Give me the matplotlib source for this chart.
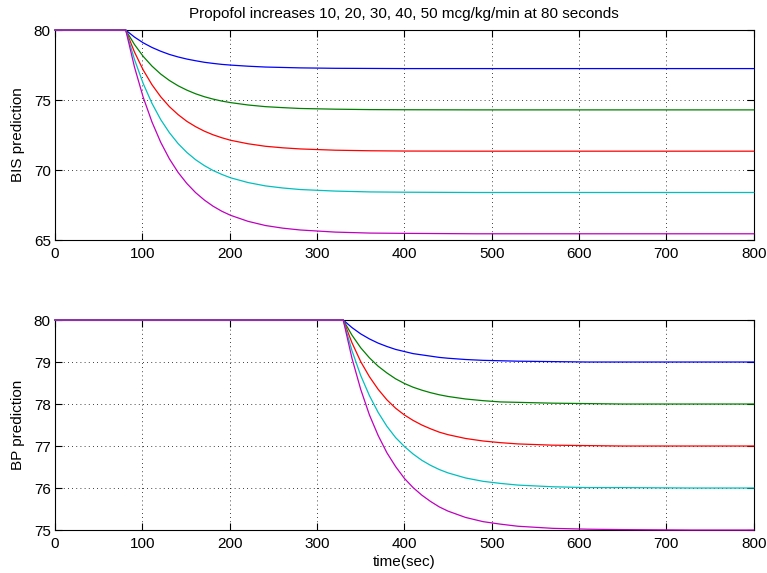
import matplotlib
matplotlib.use("Agg")
import matplotlib.pyplot as plt

plt.rcParams.update({
    "font.family": ["Liberation Sans", "DejaVu Sans"],
    "font.size": 11,
    "xtick.direction": "in",
    "ytick.direction": "in",
    "xtick.top": True,
    "ytick.right": True,
    "xtick.major.size": 5,
    "ytick.major.size": 5,
    "axes.linewidth": 0.8,
})

colors = [(0, 0, 1), (0, 0.5, 0), (1, 0, 0), (0, 0.75, 0.75), (0.75, 0, 0.75)]

# BIS prediction (dose step at 80 s)
bis_t = [0, 81, 91, 101, 111, 121, 131, 141, 151, 161, 171, 181, 191, 201,
         221, 241, 261, 281, 321, 361, 401, 481, 800]
bis_10 = [80, 80, 79.50, 79.09, 78.76, 78.49, 78.26, 78.08, 77.93, 77.81, 77.70,
          77.62, 77.55, 77.50, 77.42, 77.36, 77.33, 77.30, 77.27, 77.26, 77.25, 77.25, 77.25]
bis_20 = [80, 80, 78.97, 78.12, 77.43, 76.86, 76.40, 76.02, 75.71, 75.45, 75.24,
          75.07, 74.93, 74.82, 74.65, 74.53, 74.46, 74.40, 74.35, 74.32, 74.31, 74.30, 74.30]
bis_30 = [80, 80, 78.43, 77.15, 76.10, 75.24, 74.53, 73.96, 73.48, 73.10, 72.78,
          72.52, 72.31, 72.13, 71.88, 71.70, 71.59, 71.51, 71.42, 71.38, 71.36, 71.35, 71.35]
bis_40 = [80, 80, 77.90, 76.18, 74.77, 73.61, 72.67, 71.89, 71.26, 70.74, 70.32,
          69.97, 69.69, 69.45, 69.11, 68.87, 68.72, 68.61, 68.50, 68.44, 68.42, 68.40, 68.40]
bis_50 = [80, 80, 77.36, 75.20, 73.44, 71.99, 70.80, 69.83, 69.04, 68.39, 67.86,
          67.42, 67.06, 66.77, 66.34, 66.04, 65.85, 65.72, 65.57, 65.50, 65.48, 65.45, 65.45]

# BP prediction (response starts at 330 s)
bp_t = [0, 330, 340, 350, 360, 370, 380, 390, 400, 410, 420, 430, 440, 450,
        470, 490, 510, 530, 570, 610, 650, 730, 800]
bp_10 = [80, 80, 79.82, 79.67, 79.55, 79.45, 79.37, 79.30, 79.25, 79.20, 79.17,
         79.14, 79.11, 79.09, 79.06, 79.04, 79.03, 79.02, 79.01, 79.00, 79.00, 79.00, 79.00]
bp_20 = [80, 80, 79.64, 79.34, 79.10, 78.90, 78.74, 78.60, 78.49, 78.40, 78.33,
         78.27, 78.22, 78.18, 78.12, 78.08, 78.05, 78.04, 78.02, 78.01, 78.00, 78.00, 78.00]
bp_30 = [80, 80, 79.46, 79.01, 78.65, 78.35, 78.10, 77.90, 77.74, 77.61, 77.50,
         77.41, 77.33, 77.27, 77.18, 77.12, 77.08, 77.05, 77.02, 77.01, 77.00, 77.00, 77.00]
bp_40 = [80, 80, 79.27, 78.68, 78.20, 77.80, 77.47, 77.20, 76.99, 76.81, 76.66,
         76.54, 76.44, 76.36, 76.24, 76.16, 76.11, 76.07, 76.03, 76.01, 76.01, 76.00, 76.00]
bp_50 = [80, 80, 79.09, 78.35, 77.74, 77.25, 76.84, 76.51, 76.23, 76.01, 75.83,
         75.68, 75.55, 75.45, 75.30, 75.20, 75.14, 75.09, 75.04, 75.02, 75.01, 75.00, 75.00]

bis_series = [bis_10, bis_20, bis_30, bis_40, bis_50]
bp_series = [bp_10, bp_20, bp_30, bp_40, bp_50]

fig = plt.figure(figsize=(7.67, 5.73), dpi=100)
ax1 = fig.add_axes([0.0717, 0.581, 0.911, 0.3665])
ax2 = fig.add_axes([0.0717, 0.075, 0.911, 0.3665])

# lines drawn over the box so the flat start shows along the top edge
for ys, c in zip(bis_series, colors):
    ax1.plot(bis_t, ys, color=c, linewidth=0.9, zorder=3, clip_on=False)
for ys, c in zip(bp_series, colors):
    ax2.plot(bp_t, ys, color=c, linewidth=0.9, zorder=3, clip_on=False)

ax1.set_xlim(0, 800)
ax1.set_ylim(65, 80)
ax1.set_yticks([65, 70, 75, 80])
ax1.set_ylabel("BIS prediction", labelpad=6)
ax1.set_title("Propofol increases 10, 20, 30, 40, 50 mcg/kg/min at 80 seconds",
              fontsize=11, pad=9)

ax2.set_xlim(0, 800)
ax2.set_ylim(75, 80)
ax2.set_yticks([75, 76, 77, 78, 79, 80])
ax2.set_ylabel("BP prediction", labelpad=6)
ax2.set_xlabel("time(sec)", labelpad=3)

for ax in (ax1, ax2):
    ax.set_xticks(range(0, 801, 100))
    ax.grid(True, color="black", linestyle=(0, (1, 4)), linewidth=0.6)
    ax.tick_params(axis="x", pad=5)
    ax.tick_params(axis="y", pad=3)

fig.savefig("out.png", dpi=100)
